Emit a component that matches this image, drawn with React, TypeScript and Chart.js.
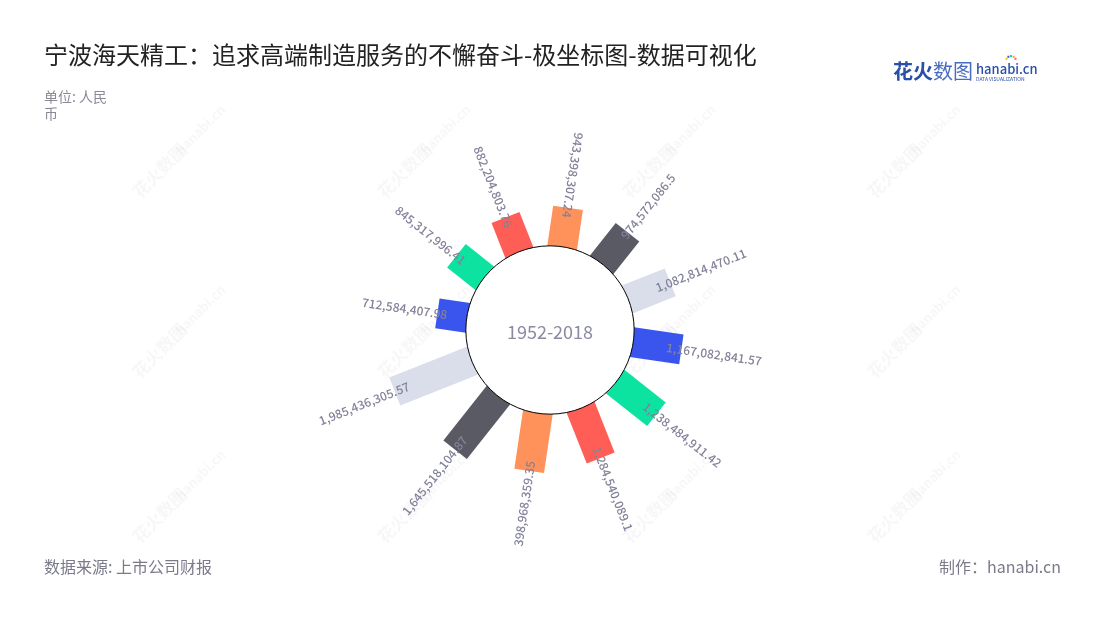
import React, { useEffect, useRef } from "react";
import { Chart, registerables } from "chart.js";

Chart.register(...registerables);

const TITLE = "宁波海天精工：追求高端制造服务的不懈奋斗-极坐标图-数据可视化";
const UNIT_LINES = ["单位: 人民", "币"];
const SOURCE = "数据来源: 上市公司财报";
const MAKER = "制作：hanabi.cn";
const CENTER_TEXT = "1952-2018";

// clockwise from the top
const values = [
  943398307.24, 974572086.5, 1082814470.11, 1167082841.57, 1238484911.42, 1284540089.1,
  1398968359.35, 1645518104.87, 1985436305.57, 712584407.98, 845317996.41, 882204803.76,
];
const valueLabels = [
  "943,398,307.24", "974,572,086.5", "1,082,814,470.11", "1,167,082,841.57", "1,238,484,911.42", "1,284,540,089.1",
  "398,968,359.35", "1,645,518,104.87", "1,985,436,305.57", "712,584,407.98", "845,317,996.41", "882,204,803.76",
];
const barColors = ["#FF915A", "#5A5A64", "#DADEEA", "#3A55EE", "#0CE3A1", "#FF5E57"];

const START_ANGLE = 8.4;
const STEP_ANGLE = 30;
const HOLE = 2.02e9;
const RANGE = 4.8e9;
const FONT = '"Noto Sans CJK SC", "Noto Sans", sans-serif';

const angleOf = (i: number) => ((START_ANGLE + STEP_ANGLE * i) * Math.PI) / 180;

export default function App() {
  const ref = useRef<HTMLCanvasElement | null>(null);

  useEffect(() => {
    const canvas = ref.current;
    if (!canvas) return;

    const datasets = values.map((v, i) => {
      const a = angleOf(i);
      const rIn = HOLE * 0.8;
      const rOut = HOLE + v;
      return {
        label: valueLabels[i],
        data: [
          { x: rIn * Math.sin(a), y: rIn * Math.cos(a) },
          { x: rOut * Math.sin(a), y: rOut * Math.cos(a) },
        ],
        showLine: true,
        borderColor: barColors[i % barColors.length],
        backgroundColor: barColors[i % barColors.length],
        borderWidth: 30,
        borderCapStyle: "butt" as const,
        pointRadius: 0,
        pointHoverRadius: 0,
      };
    });

    const decor = {
      id: "decor",
      beforeDraw(chart: any) {
        const ctx = chart.ctx;
        ctx.save();
        ctx.fillStyle = "#ffffff";
        ctx.fillRect(0, 0, chart.width, chart.height);
        // watermarks
        ctx.fillStyle = "rgba(170,170,180,0.09)";
        const xs = [175, 420, 665, 910];
        const ys = [155, 335, 500];
        for (const wx of xs) {
          for (const wy of ys) {
            ctx.save();
            ctx.translate(wx, wy);
            ctx.rotate(-Math.PI / 4);
            ctx.textAlign = "center";
            ctx.textBaseline = "middle";
            ctx.font = `bold 17px ${FONT}`;
            ctx.fillText("花火数图", -22, 0);
            ctx.font = `bold 13px ${FONT}`;
            ctx.fillText("hanabi.cn", 36, 0);
            ctx.restore();
          }
        }
        ctx.restore();
      },
      afterDatasetsDraw(chart: any) {
        const ctx = chart.ctx;
        const xs = chart.scales.x;
        const ys = chart.scales.y;
        const cx = xs.getPixelForValue(0);
        const cy = ys.getPixelForValue(0);
        const r = xs.getPixelForValue(HOLE) - cx;
        ctx.save();
        ctx.beginPath();
        ctx.arc(cx, cy, r, 0, Math.PI * 2);
        ctx.fillStyle = "#ffffff";
        ctx.fill();
        ctx.lineWidth = 1;
        ctx.strokeStyle = "#000000";
        ctx.stroke();

        ctx.fillStyle = "#8A8AA0";
        ctx.font = `18px ${FONT}`;
        ctx.textAlign = "center";
        ctx.textBaseline = "middle";
        ctx.fillText(CENTER_TEXT, cx, cy + 2);

        // value labels
        ctx.font = `500 12px ${FONT}`;
        ctx.fillStyle = "#82829A";
        values.forEach((v, i) => {
          const a = angleOf(i);
          const rOut = HOLE + v;
          const px = xs.getPixelForValue(rOut * Math.sin(a));
          const py = ys.getPixelForValue(rOut * Math.cos(a));
          const dx = Math.sin(a);
          const dy = -Math.cos(a);
          const lx = px + dx * 33;
          const ly = py + dy * 33;
          const deg = (START_ANGLE + STEP_ANGLE * i) % 360;
          const outward = deg > 15 && deg < 180;
          const rot = outward ? a - Math.PI / 2 : a + Math.PI / 2;
          ctx.save();
          ctx.translate(lx, ly);
          ctx.rotate(rot);
          ctx.textAlign = "center";
          ctx.textBaseline = "middle";
          ctx.fillText(valueLabels[i], 0, 0);
          ctx.restore();
        });
        ctx.restore();
      },
      afterDraw(chart: any) {
        const ctx = chart.ctx;
        ctx.save();
        ctx.textBaseline = "middle";
        ctx.textAlign = "left";
        ctx.fillStyle = "#222222";
        ctx.font = `24px ${FONT}`;
        ctx.fillText(TITLE, 44, 55);

        ctx.fillStyle = "#8A8A96";
        ctx.font = `14px ${FONT}`;
        UNIT_LINES.forEach((t, k) => ctx.fillText(t, 44, 97 + k * 17));

        ctx.fillStyle = "#7A7A8A";
        ctx.font = `16px ${FONT}`;
        ctx.fillText(SOURCE, 44, 567);
        ctx.textAlign = "right";
        ctx.fillText(MAKER, 1061, 567);

        // logo
        ctx.textAlign = "left";
        ctx.fillStyle = "#2A4FA8";
        ctx.font = `bold 20px ${FONT}`;
        ctx.fillText("花火", 893, 71);
        ctx.fillStyle = "#4A6CC0";
        ctx.font = `20px ${FONT}`;
        ctx.fillText("数图", 933, 71);
        ctx.fillStyle = "#2A4FA8";
        ctx.font = `500 13px ${FONT}`;
        ctx.fillText("hanabi.cn", 976, 69);
        ctx.font = `5px ${FONT}`;
        ctx.fillText("DATA VISUALIZATION", 976, 79);
        const sparks = ["#FF5E57", "#FF915A", "#0CE3A1", "#3A55EE", "#F5C200"];
        sparks.forEach((c, k) => {
          ctx.fillStyle = c;
          const ang = -Math.PI * (0.15 + 0.175 * k);
          ctx.fillRect(1010 + Math.cos(ang) * 5, 60 + Math.sin(ang) * 5, 2, 2);
        });
        ctx.restore();
      },
    };

    const chart = new Chart(canvas, {
      type: "scatter",
      data: { datasets },
      options: {
        animation: false,
        responsive: false,
        devicePixelRatio: 1,
        layout: { padding: { left: 350, right: 350, top: 130, bottom: 90 } },
        scales: {
          x: { type: "linear", min: -RANGE, max: RANGE, display: false },
          y: { type: "linear", min: -RANGE, max: RANGE, display: false },
        },
        plugins: {
          legend: { display: false },
          tooltip: { enabled: false },
          title: { display: false },
        },
        events: [],
      },
      plugins: [decor],
    });
    return () => chart.destroy();
  }, []);

  return (
    <div style={{ position: "absolute", left: 0, top: 0, width: 1100, height: 620 }}>
      <canvas ref={ref} width={1100} height={620} style={{ display: "block" }} />
    </div>
  );
}
